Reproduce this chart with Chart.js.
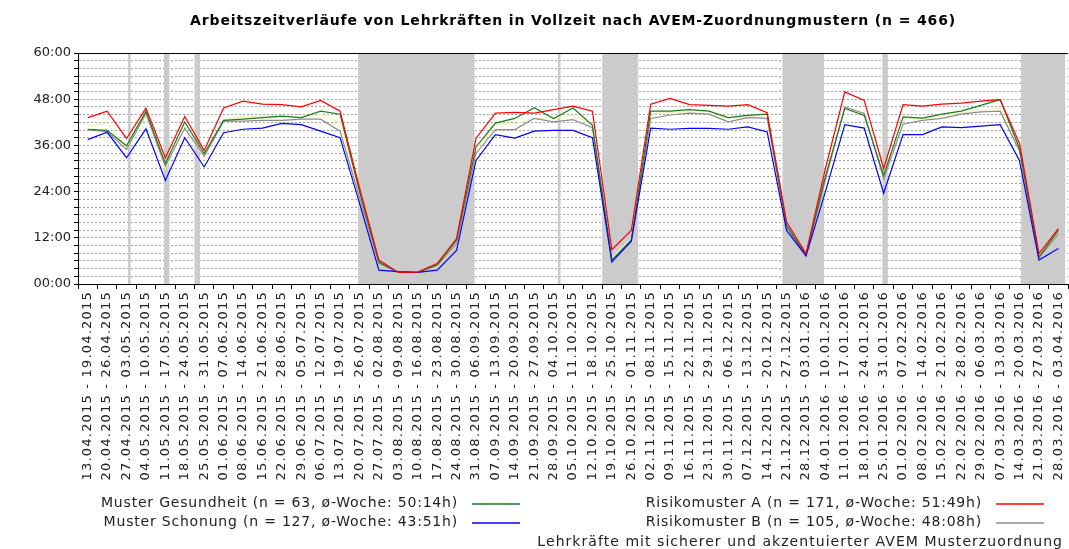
<!DOCTYPE html>
<html lang="de">
<head>
<meta charset="utf-8">
<title>Arbeitszeitverläufe</title>
<script src="https://cdn.jsdelivr.net/npm/chart.js@4.4.1/dist/chart.umd.min.js"></script>
<style>
  html, body { margin: 0; padding: 0; background: #fff; overflow: hidden; }
  #wrap { width: 1076px; height: 549px; }
</style>
</head>
<body>
<div id="wrap"><canvas id="myChart" width="1076" height="549"></canvas></div>
<script>
/* Daten */

const chartTitle = 'Arbeitszeitverläufe von Lehrkräften in Vollzeit nach AVEM-Zuordnungmustern (n = 466)';

const weeks = [
    '13.04.2015 - 19.04.2015', '20.04.2015 - 26.04.2015', '27.04.2015 - 03.05.2015', '04.05.2015 - 10.05.2015',
    '11.05.2015 - 17.05.2015', '18.05.2015 - 24.05.2015', '25.05.2015 - 31.05.2015', '01.06.2015 - 07.06.2015',
    '08.06.2015 - 14.06.2015', '15.06.2015 - 21.06.2015', '22.06.2015 - 28.06.2015', '29.06.2015 - 05.07.2015',
    '06.07.2015 - 12.07.2015', '13.07.2015 - 19.07.2015', '20.07.2015 - 26.07.2015', '27.07.2015 - 02.08.2015',
    '03.08.2015 - 09.08.2015', '10.08.2015 - 16.08.2015', '17.08.2015 - 23.08.2015', '24.08.2015 - 30.08.2015',
    '31.08.2015 - 06.09.2015', '07.09.2015 - 13.09.2015', '14.09.2015 - 20.09.2015', '21.09.2015 - 27.09.2015',
    '28.09.2015 - 04.10.2015', '05.10.2015 - 11.10.2015', '12.10.2015 - 18.10.2015', '19.10.2015 - 25.10.2015',
    '26.10.2015 - 01.11.2015', '02.11.2015 - 08.11.2015', '09.11.2015 - 15.11.2015', '16.11.2015 - 22.11.2015',
    '23.11.2015 - 29.11.2015', '30.11.2015 - 06.12.2015', '07.12.2015 - 13.12.2015', '14.12.2015 - 20.12.2015',
    '21.12.2015 - 27.12.2015', '28.12.2015 - 03.01.2016', '04.01.2016 - 10.01.2016', '11.01.2016 - 17.01.2016',
    '18.01.2016 - 24.01.2016', '25.01.2016 - 31.01.2016', '01.02.2016 - 07.02.2016', '08.02.2016 - 14.02.2016',
    '15.02.2016 - 21.02.2016', '22.02.2016 - 28.02.2016', '29.02.2016 - 06.03.2016', '07.03.2016 - 13.03.2016',
    '14.03.2016 - 20.03.2016', '21.03.2016 - 27.03.2016', '28.03.2016 - 03.04.2016'
];

// Wochenarbeitszeit in Stunden
const gesundheit = [
    40.2, 39.9, 35.9, 44.9, 31.3, 42.1, 33.9, 42.5, 42.8, 43.2, 43.6, 43.2, 44.9, 44.1, 24.0, 5.7, 3.0,
    3.0, 5.0, 11.4, 35.6, 41.8, 43.0, 45.8, 43.0, 45.7, 41.2, 6.2, 11.4, 44.9, 44.9, 45.3, 44.9, 43.2,
    43.8, 44.1, 15.2, 7.5, 28.0, 45.6, 43.8, 28.2, 43.4, 43.1, 44.1, 44.9, 46.4, 47.9, 35.2, 7.0, 14.0
];
const schonung = [
    37.5, 39.4, 32.8, 40.3, 26.9, 38.0, 30.4, 39.3, 40.2, 40.5, 41.7, 41.4, 39.7, 38.0, 21.0, 3.6, 3.2,
    3.0, 3.6, 8.7, 32.1, 38.8, 37.9, 39.7, 39.9, 39.9, 38.0, 5.7, 11.1, 40.5, 40.2, 40.4, 40.4, 40.2,
    40.8, 39.5, 13.9, 7.3, 24.0, 41.4, 40.5, 23.6, 38.8, 38.8, 40.8, 40.6, 41.0, 41.4, 32.0, 6.2, 9.2
];
const risikoA = [
    43.2, 44.9, 37.8, 45.7, 32.8, 43.5, 34.7, 45.7, 47.5, 46.7, 46.6, 46.0, 47.7, 44.9, 25.0, 6.2, 3.0,
    3.1, 5.3, 11.8, 37.8, 44.4, 44.6, 44.4, 45.3, 46.2, 44.9, 8.9, 13.9, 46.7, 48.2, 46.6, 46.4, 46.2,
    46.6, 44.5, 16.1, 7.9, 30.0, 49.9, 47.7, 30.0, 46.6, 46.2, 46.7, 47.0, 47.5, 47.9, 36.5, 7.9, 14.4
];
const risikoB = [
    40.0, 39.6, 34.9, 44.3, 30.6, 40.5, 33.2, 42.3, 42.3, 42.5, 42.5, 42.8, 42.8, 39.7, 22.5, 5.4, 3.0,
    3.0, 4.8, 10.5, 33.9, 40.1, 40.1, 43.0, 42.1, 42.7, 40.6, 6.0, 11.2, 43.0, 43.9, 44.4, 44.1, 42.1,
    43.2, 43.0, 14.8, 7.5, 27.0, 46.0, 44.3, 27.4, 41.5, 42.5, 43.0, 44.1, 44.7, 44.9, 34.5, 6.8, 13.0
];
const sichereZuordnung = [
    41.0, 41.8, 35.4, 43.7, 30.0, 40.6, 32.7, 42.6, 43.6, 43.3, 43.4, 43.2, 44.0, 41.9, 23.0, 5.4, 3.0,
    3.0, 4.7, 10.5, 34.8, 41.4, 41.6, 43.0, 43.0, 43.8, 41.3, 6.8, 12.0, 44.2, 44.6, 44.4, 44.2, 43.1,
    43.7, 42.9, 15.0, 7.6, 27.2, 46.0, 44.3, 27.6, 43.0, 43.0, 43.6, 44.4, 45.2, 45.6, 34.6, 7.1, 12.9
];

// Ferien und Feiertage (erster und letzter Tag)
const holidays = [
    ['2015-05-01', '2015-05-01'],
    ['2015-05-14', '2015-05-15'],
    ['2015-05-25', '2015-05-26'],
    ['2015-07-23', '2015-09-02'],
    ['2015-10-03', '2015-10-03'],
    ['2015-10-19', '2015-10-31'],
    ['2015-12-23', '2016-01-06'],
    ['2016-01-28', '2016-01-29'],
    ['2016-03-18', '2016-04-02']
];

const yTicks = [0, 12, 24, 36, 48, 60];

const firstMonday = Date.UTC(2015, 3, 13);

/* Hilfsfunktionen */

function weekPos(dateStr, plusDays) {
    const [y, m, d] = dateStr.split('-').map(Number);
    const days = (Date.UTC(y, m - 1, d) - firstMonday) / 86400000 + plusDays;
    return days / 7 - 0.5;
}

function hoursLabel(v) {
    return String(v).padStart(2, '0') + ':00';
}

/* Plugins */

const holidayBands = {
    id: 'holidayBands',
    beforeDatasetsDraw(chart) {
        const {ctx, chartArea, scales: {x}} = chart;
        ctx.save();
        ctx.fillStyle = '#cbcbcb';
        for (const [from, to] of holidays) {
            const x1 = x.getPixelForValue(weekPos(from, 0));
            const x2 = x.getPixelForValue(weekPos(to, 1));
            ctx.fillRect(x1, chartArea.top, x2 - x1, chartArea.bottom - chartArea.top);
        }
        ctx.restore();
    },
    afterDatasetsDraw(chart) {
        const {ctx, chartArea} = chart;
        ctx.save();
        ctx.strokeStyle = '#000';
        ctx.lineWidth = 1;
        ctx.beginPath();
        ctx.moveTo(chartArea.left, chartArea.top + 0.5);
        ctx.lineTo(chartArea.right, chartArea.top + 0.5);
        ctx.moveTo(chartArea.left, chartArea.bottom + 0.5);
        ctx.lineTo(chartArea.right, chartArea.bottom + 0.5);
        ctx.moveTo(chartArea.left + 0.5, chartArea.top);
        ctx.lineTo(chartArea.left + 0.5, chartArea.bottom);
        ctx.stroke();
        ctx.restore();
    }
};

// breitere Beschriftung der Wochen-Achse
const spacedLabels = {
    id: 'spacedLabels',
    beforeDraw(chart) {
        const x = chart.scales.x;
        if (x._spaced) return;
        const draw = x.drawLabels.bind(x);
        x.drawLabels = function(area) {
            this.ctx.save();
            this.ctx.letterSpacing = '1.2px';
            draw(area);
            this.ctx.restore();
        };
        x._spaced = true;
    }
};

// Titel über der Zeichenfläche
const spacedTitle = {
    id: 'spacedTitle',
    afterDraw(chart) {
        const {ctx, chartArea} = chart;
        ctx.save();
        ctx.font = 'bold 14px "DejaVu Sans"';
        ctx.letterSpacing = '0.85px';
        ctx.fillStyle = '#000';
        ctx.textAlign = 'center';
        ctx.textBaseline = 'middle';
        ctx.fillText(chartTitle, (chartArea.left + chartArea.right) / 2, 21);
        ctx.restore();
    }
};

// Legende: Text rechtsbündig, Linie dahinter
const legendRows = [
    {ds: 0, right: 458, y: 503, spacing: 0.8},
    {ds: 2, right: 982, y: 503, spacing: 0.8},
    {ds: 1, right: 458, y: 522, spacing: 0.8},
    {ds: 3, right: 982, y: 522, spacing: 0.8},
    {ds: 4, right: 1063, y: 542, spacing: 1.05}
];

const sideLegend = {
    id: 'sideLegend',
    afterDraw(chart) {
        const ctx = chart.ctx;
        ctx.save();
        ctx.font = '14px "DejaVu Sans"';
        ctx.textAlign = 'right';
        ctx.textBaseline = 'middle';
        for (const row of legendRows) {
            const ds = chart.data.datasets[row.ds];
            ctx.letterSpacing = row.spacing + 'px';
            ctx.fillStyle = '#222';
            ctx.fillText(ds.label, row.right, row.y);
            ctx.strokeStyle = ds.borderColor;
            ctx.lineWidth = 1.5;
            ctx.beginPath();
            ctx.moveTo(row.right + 14, row.y + 1);
            ctx.lineTo(row.right + 62, row.y + 1);
            ctx.stroke();
        }
        ctx.restore();
    }
};

/* Diagramm */

function makeLine(label, data, color, order) {
    return {
        label: label,
        data: data,
        borderColor: color,
        backgroundColor: color,
        borderWidth: 1.2,
        pointRadius: 0,
        tension: 0,
        fill: false,
        order: order
    };
}

function initChart() {
    const ctx = document.getElementById('myChart').getContext('2d');

    const myChart = new Chart(ctx, {
        type: 'line',
        data: {
            labels: weeks,
            datasets: [
                makeLine('Muster Gesundheit (n = 63, ø-Woche: 50:14h)', gesundheit, '#1d7a1d', 2),
                makeLine('Muster Schonung (n = 127, ø-Woche: 43:51h)', schonung, '#0000ff', 1),
                makeLine('Risikomuster A (n = 171, ø-Woche: 51:49h)', risikoA, '#ff0000', 0),
                makeLine('Risikomuster B (n = 105, ø-Woche: 48:08h)', risikoB, '#8c8c8c', 3),
                makeLine('Lehrkräfte mit sicherer und akzentuierter AVEM Musterzuordnung', sichereZuordnung, '#f2f2b8', 4)
            ]
        },
        options: {
            responsive: false,
            animation: false,
            events: [],
            layout: {padding: {left: 0, right: 2, top: 53, bottom: 65}},
            plugins: {
                legend: {display: false},
                tooltip: {enabled: false},
                title: {display: false}
            },
            scales: {
                x: {
                    offset: true,
                    grid: {
                        offset: true,
                        drawOnChartArea: false,
                        drawTicks: true,
                        tickLength: 5,
                        tickColor: '#000'
                    },
                    border: {display: true, color: '#000'},
                    ticks: {
                        autoSkip: false,
                        minRotation: 90,
                        maxRotation: 90,
                        padding: 2,
                        color: '#222',
                        font: {family: '"DejaVu Sans"', size: 13}
                    },
                    afterFit(scale) {
                        scale.height = 200;
                    }
                },
                y: {
                    min: 0,
                    max: 60,
                    grid: {
                        color: '#a0a0a0',
                        lineWidth: 1,
                        tickColor: '#000',
                        tickLength: 4
                    },
                    border: {display: true, color: '#000', dash: [2, 2]},
                    ticks: {
                        stepSize: 2,
                        autoSkip: false,
                        padding: 3,
                        color: '#222',
                        font: {family: '"DejaVu Sans"', size: 13},
                        callback: (v) => yTicks.includes(v) ? hoursLabel(v) : ''
                    },
                    afterFit(scale) {
                        scale.width = 78;
                    }
                }
            }
        },
        plugins: [holidayBands, spacedLabels, spacedTitle, sideLegend]
    });
    return myChart;
}

const app = () => {
    initChart();
};
app();
</script>
</body>
</html>
